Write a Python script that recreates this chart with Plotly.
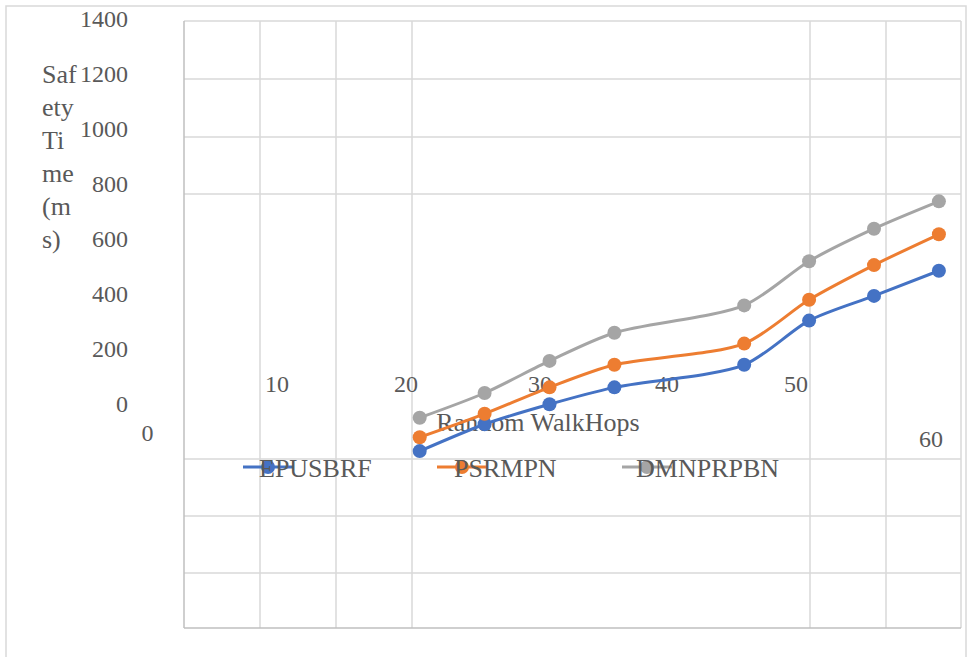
import plotly.graph_objects as go

# ---- data -------------------------------------------------------------
hops = [20, 25, 30, 35, 45, 50, 55, 60]
epusbrf = [408, 470, 516, 555, 607, 709, 766, 824]
psrmpn = [440, 494, 555, 607, 656, 757, 837, 908]
dmnprpbn = [485, 542, 616, 681, 744, 846, 921, 984]

series_names = ["EPUSBRF", "PSRMPN", "DMNPRPBN"]
series_values = [epusbrf, psrmpn, dmnprpbn]
series_colors = ["#4472C4", "#ED7D31", "#A5A5A5"]

y_tick_labels = ["1400", "1200", "1000", "800", "600", "400", "200", "0"]
x_tick_labels = ["10", "20", "30", "40", "50", "60"]
y_title_parts = ["Saf", "ety", "Ti", "me", "(m", "s)"]
x_title = "Random WalkHops"

# ---- page geometry (pixels) ------------------------------------------
W, H = 968, 657
PL, PR, PT, PB = 184, 961, 21, 628          # plot area
Y_MAX = 1400
X0_PX, X_STEP = 419.7, 12.98                  # pixel of hop 20, px per hop


def hop_at(px):
    return 20 + (px - X0_PX) / X_STEP


FONT = "Liberation Serif"
TXT = "#595959"
GRID = "#D9D9D9"
AXIS = "#BFBFBF"
FS = 24
FS_WORD = 26

fig = go.Figure()

# text layer (full-page pixel axes); drawn underneath the data subplot
def add_text(xs, ys, texts, pos, size=FS):
    fig.add_trace(go.Scatter(
        x=xs, y=ys, text=texts, mode="text", textposition=pos,
        textfont=dict(family=FONT, size=size, color=TXT),
        hoverinfo="skip", showlegend=False, cliponaxis=False,
        xaxis="x", yaxis="y"))


add_text([128] * len(y_tick_labels), [21 + 55 * i for i in range(len(y_tick_labels))],
         y_tick_labels, "middle left")
add_text([147.5], [435], ["0"], "middle center")
add_text([42] * len(y_title_parts), [76 + 33 * i for i in range(len(y_title_parts))],
         y_title_parts, "middle right", size=FS_WORD)
add_text([277, 406, 540, 667, 796, 931], [386, 386, 386, 386, 386, 441],
         x_tick_labels, "middle center")
add_text([538], [424], [x_title], "middle center", size=FS_WORD)

legend_text_x = [259, 454, 636]
legend_line_x = [243, 437, 622]
add_text(legend_text_x, [470] * 3, series_names, "middle right", size=FS_WORD)

# data subplot
for name, vals, col in zip(series_names, series_values, series_colors):
    fig.add_trace(go.Scatter(
        x=hops, y=vals, name=name, mode="lines+markers",
        line=dict(color=col, width=3, shape="spline", smoothing=0.8),
        marker=dict(color=col, size=14),
        showlegend=False, xaxis="x2", yaxis="y2", cliponaxis=False))

# grid, borders and legend keys (pixel coordinates on the page axes)
shapes = []
shapes.append(dict(type="rect", xref="x", yref="y", x0=6, x1=966, y0=6, y1=662,
                   line=dict(color=GRID, width=1.5), layer="below"))
for gx in [260, 336, 412, 810, 886, PR]:
    shapes.append(dict(type="line", xref="x", yref="y", x0=gx, x1=gx, y0=PT, y1=PB,
                       line=dict(color=GRID, width=1.5), layer="below"))
for gy in [PT, 79, 137, 194, 459, 516, 573]:
    shapes.append(dict(type="line", xref="x", yref="y", x0=PL, x1=PR, y0=gy, y1=gy,
                       line=dict(color=GRID, width=1.5), layer="below"))
shapes.append(dict(type="line", xref="x", yref="y", x0=PL, x1=PL, y0=PT, y1=PB,
                   line=dict(color=AXIS, width=1.5), layer="below"))
shapes.append(dict(type="line", xref="x", yref="y", x0=PL, x1=PR, y0=PB, y1=PB,
                   line=dict(color=AXIS, width=1.5), layer="below"))
for lx, col in zip(legend_line_x, series_colors):
    shapes.append(dict(type="line", xref="x", yref="y", x0=lx, x1=lx + 50, y0=467, y1=467,
                       line=dict(color=col, width=3), layer="below"))
    shapes.append(dict(type="circle", xref="x", yref="y", x0=lx + 18, x1=lx + 32,
                       y0=460, y1=474, fillcolor=col, line=dict(width=0), layer="below"))

fig.update_layout(
    width=W, height=H,
    margin=dict(l=0, r=0, t=0, b=0),
    paper_bgcolor="white",
    plot_bgcolor="rgba(0,0,0,0)",
    showlegend=False,
    shapes=shapes,
    xaxis=dict(domain=[0, 1], range=[0, W], visible=False, fixedrange=True),
    yaxis=dict(domain=[0, 1], range=[H, 0], visible=False, fixedrange=True),
    xaxis2=dict(domain=[PL / W, PR / W], range=[hop_at(PL), hop_at(PR)],
                visible=False, anchor="y2"),
    yaxis2=dict(domain=[1 - PB / H, 1 - PT / H], range=[0, Y_MAX],
                visible=False, anchor="x2"),
)

fig.write_html("out.html")
